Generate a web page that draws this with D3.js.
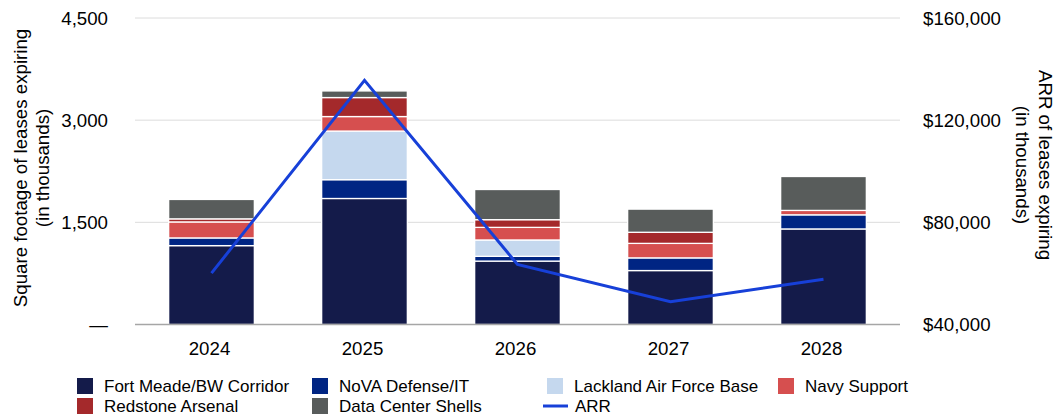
<!DOCTYPE html>
<html><head><meta charset="utf-8">
<script src="https://cdn.jsdelivr.net/npm/d3@7"></script>
<style>body{margin:0;background:#fff;font-family:"Liberation Sans",Arial,sans-serif;}</style>
</head><body>
<svg id="c" width="1057" height="418"></svg>
<script>
const years = ["2024","2025","2026","2027","2028"];
const fortMeade = [1158, 1850, 931, 792, 1403];
const novaDefense = [113, 276, 70, 186, 207];
const lackland = [0, 714, 240, 0, 0];
const navySupport = [235, 213, 185, 213, 65];
const redstone = [45, 279, 113, 163, 0];
const dataCenter = [285, 97, 443, 340, 498];
const arr = [60100, 135600, 63500, 48900, 57700];
const leftTicks = [0, 1500, 3000, 4500];
const rightTicks = [40000, 80000, 120000, 160000];

const seriesNames = ["Fort Meade/BW Corridor","NoVA Defense/IT","Lackland Air Force Base","Navy Support","Redstone Arsenal","Data Center Shells"];
const seriesVals = [fortMeade, novaDefense, lackland, navySupport, redstone, dataCenter];
const colors = ["#141b4a","#002583","#c5d8ee","#d64f4f","#a4292b","#585c5b"];
const lineColor = "#1740d8";

const svg = d3.select("#c");
const x = d3.scaleBand().domain(years).range([135, 900]).paddingInner(0.44).paddingOuter(0.22);
const y = d3.scaleLinear().domain([0, 4500]).range([324.5, 18]);
const y2 = d3.scaleLinear().domain([40000, 160000]).range([324.5, 18]);

// gridlines
svg.append("g").selectAll("line").data(leftTicks.filter(d => d > 0)).join("line")
  .attr("x1", 135).attr("x2", 900).attr("y1", d => y(d)).attr("y2", d => y(d))
  .attr("stroke", "#dcdcdc").attr("stroke-width", 1);

// stacked bars
const table = years.map((yr, i) => { const o = {year: yr}; seriesNames.forEach((s, j) => o[s] = seriesVals[j][i]); return o; });
const stack = d3.stack().keys(seriesNames)(table);
svg.append("g").selectAll("g").data(stack).join("g").attr("fill", (d, i) => colors[i])
  .selectAll("rect").data(d => d.filter(v => v[1] - v[0] > 0)).join("rect")
  .attr("x", d => x(d.data.year)).attr("width", x.bandwidth())
  .attr("y", d => y(d[1])).attr("height", d => y(d[0]) - y(d[1]))
  .attr("stroke", "#ffffff").attr("stroke-width", 1.3);

// baseline
svg.append("line").attr("x1", 135).attr("x2", 900).attr("y1", y(0)).attr("y2", y(0))
  .attr("stroke", "#a6a6a6").attr("stroke-width", 1.5);

// ARR line
const line = d3.line().x((d, i) => x(years[i]) + x.bandwidth() / 2).y(d => y2(d));
svg.append("path").datum(arr).attr("d", line).attr("fill", "none")
  .attr("stroke", lineColor).attr("stroke-width", 3).attr("stroke-linejoin", "miter");

const fs = 18.7;
// left axis labels
svg.append("g").selectAll("text").data(leftTicks).join("text")
  .attr("x", 108).attr("y", d => y(d)).attr("dy", "0.35em").attr("text-anchor", "end")
  .attr("font-size", fs).attr("fill", "#000")
  .text(d => d === 0 ? "—" : d3.format(",")(d));
// right axis labels
svg.append("g").selectAll("text").data(rightTicks).join("text")
  .attr("x", 923).attr("y", d => y2(d)).attr("dy", "0.35em").attr("text-anchor", "start")
  .attr("font-size", fs).attr("fill", "#000")
  .text(d => "$" + d3.format(",")(d));
// x labels
svg.append("g").selectAll("text").data(years).join("text")
  .attr("x", d => x(d) + x.bandwidth() / 2 - 2).attr("y", 348).attr("dy", "0.35em").attr("text-anchor", "middle")
  .attr("font-size", fs).attr("fill", "#000").text(d => d);

// axis titles
const lt = svg.append("text").attr("transform", "translate(20,168) rotate(-90)").attr("text-anchor", "middle")
  .attr("font-size", fs).attr("fill", "#000");
lt.append("tspan").attr("x", 0).attr("dy", "0.35em").text("Square footage of leases expiring");
lt.append("tspan").attr("x", 0).attr("dy", 22).text("(in thousands)");
const rt = svg.append("text").attr("transform", "translate(1046,165) rotate(90)").attr("text-anchor", "middle")
  .attr("font-size", fs).attr("fill", "#000");
rt.append("tspan").attr("x", 0).attr("dy", "0.35em").text("ARR of leases expiring");
rt.append("tspan").attr("x", 0).attr("dy", 23).text("(in thousands)");

// legend
const lfs = 17;
const legendItems = [
  {name: seriesNames[0], c: colors[0], x: 77, y: 386},
  {name: seriesNames[1], c: colors[1], x: 312, y: 386},
  {name: seriesNames[2], c: colors[2], x: 547, y: 386},
  {name: seriesNames[3], c: colors[3], x: 778, y: 386},
  {name: seriesNames[4], c: colors[4], x: 77, y: 406},
  {name: seriesNames[5], c: colors[5], x: 312, y: 406},
  {name: "ARR", c: lineColor, x: 543, y: 406, line: true}
];
const lg = svg.append("g").selectAll("g").data(legendItems).join("g");
lg.each(function(d) {
  const g = d3.select(this);
  if (d.line) {
    g.append("line").attr("x1", d.x).attr("x2", d.x + 25).attr("y1", d.y).attr("y2", d.y)
      .attr("stroke", d.c).attr("stroke-width", 3);
    g.append("text").attr("x", d.x + 32).attr("y", d.y).attr("dy", "0.35em").attr("font-size", lfs).text(d.name);
  } else {
    g.append("rect").attr("x", d.x).attr("y", d.y - 8).attr("width", 16).attr("height", 16).attr("fill", d.c);
    g.append("text").attr("x", d.x + 27).attr("y", d.y).attr("dy", "0.35em").attr("font-size", lfs).text(d.name);
  }
});
</script>
</body></html>
